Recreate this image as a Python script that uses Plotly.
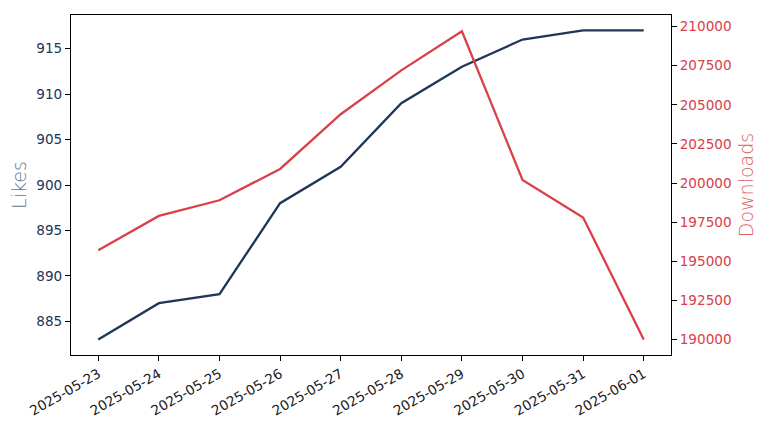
import plotly.graph_objects as go

# Daily stats
dates = ["2025-05-23", "2025-05-24", "2025-05-25", "2025-05-26", "2025-05-27",
         "2025-05-28", "2025-05-29", "2025-05-30", "2025-05-31", "2025-06-01"]
likes = [883, 887, 888, 898, 902, 909, 913, 916, 917, 917]
downloads = [195700, 197900, 198900, 200900, 204400, 207200, 209700, 200200, 197800, 190000]

likes_ticks = [885, 890, 895, 900, 905, 910, 915]
downloads_ticks = [190000, 192500, 195000, 197500, 200000, 202500, 205000, 207500, 210000]

navy = "#1f3657"
red = "#d9404a"

fig = go.Figure()
fig.add_trace(go.Scatter(x=dates, y=likes, mode="lines", name="Likes",
                         line=dict(color=navy, width=2.3)))
fig.add_trace(go.Scatter(x=dates, y=downloads, mode="lines", name="Downloads",
                         line=dict(color=red, width=2.3), yaxis="y2"))

tick_font = dict(family="DejaVu Sans", size=13.6)

# page body has an 8px margin, so the figure is a bit smaller than the window
fig.update_layout(
    width=760, height=424,
    margin=dict(l=63, r=97, t=7, b=77),
    paper_bgcolor="white", plot_bgcolor="white",
    showlegend=False,
    xaxis=dict(
        type="date", automargin=False,
        range=["2025-05-22 13:12", "2025-06-01 10:48"],
        tickvals=dates, ticktext=dates, tickangle=-30,
        tickfont=dict(color="#1a1a1a", **tick_font),
        showgrid=False, zeroline=False,
        showline=True, linecolor="black", linewidth=1, mirror=True,
        ticks="outside", ticklen=5, tickcolor="black",
    ),
    yaxis=dict(
        automargin=False,
        range=[881.3, 918.7],
        tickvals=likes_ticks,
        tickfont=dict(color=navy, **tick_font),
        title=dict(text="Likes", font=dict(family="DejaVu Sans", weight=200, size=19, color="#66748d"),
                   standoff=7),
        showgrid=False, zeroline=False,
        showline=True, linecolor="black", linewidth=1, mirror=True,
        ticks="outside", ticklen=5, tickcolor="black",
    ),
    yaxis2=dict(
        overlaying="y", side="right", automargin=False,
        range=[189010, 210740],
        tickvals=downloads_ticks,
        ticktext=[str(v) for v in downloads_ticks],
        tickfont=dict(color=red, **tick_font),
        title=dict(text="Downloads", font=dict(family="DejaVu Sans", weight=200, size=19, color="#e25e66"),
                   standoff=9),
        showgrid=False, zeroline=False,
        showline=True, linecolor="black", linewidth=1,
        ticks="outside", ticklen=5, tickcolor="black",
    ),
)

fig.write_html("out.html")
